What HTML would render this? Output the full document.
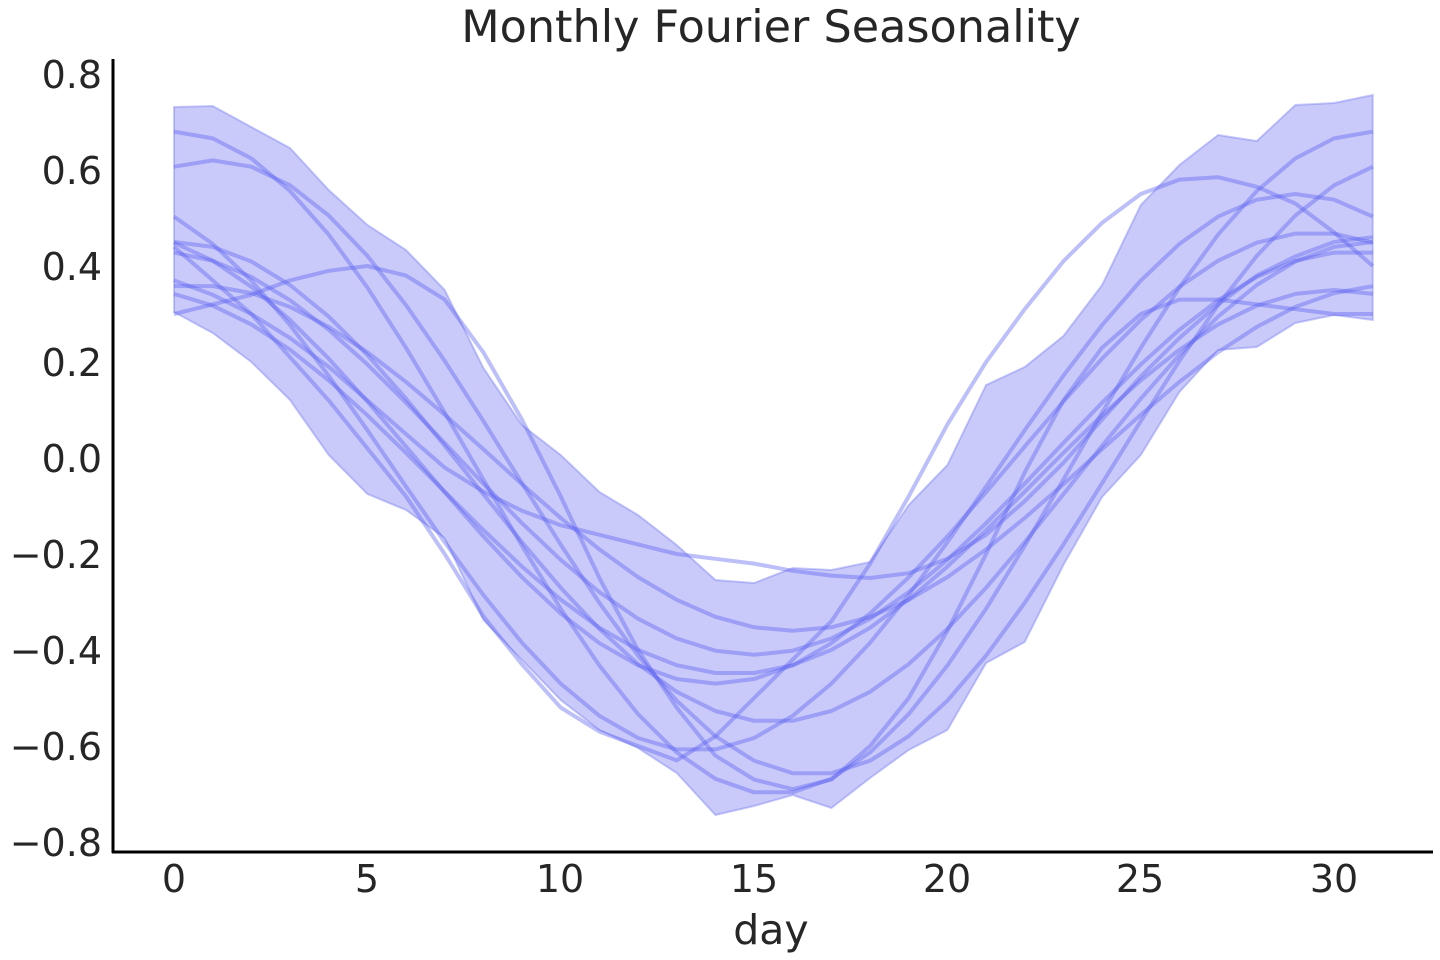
<!DOCTYPE html>
<html><head><meta charset="utf-8"><style>
html,body{margin:0;padding:0;background:#fff;}
svg{display:block;font-family:"DejaVu Sans","Liberation Sans",sans-serif;}
</style></head><body>
<svg id="s" width="1440" height="960" viewBox="0 0 1440 960" xmlns="http://www.w3.org/2000/svg">
<text x="771" y="42" font-size="44.5" fill="#262626" text-anchor="middle">Monthly Fourier Seasonality</text>
<g id="plot"></g>
<line x1="113" y1="59" x2="113" y2="853" stroke="#000" stroke-width="3"/>
<line x1="112" y1="852" x2="1433" y2="852" stroke="#000" stroke-width="3"/>
<g font-size="38" fill="#262626" text-anchor="end">
<text x="102" y="88">0.8</text>
<text x="102" y="184">0.6</text>
<text x="102" y="280">0.4</text>
<text x="102" y="376">0.2</text>
<text x="102" y="472">0.0</text>
<text x="102" y="568">−0.2</text>
<text x="102" y="664">−0.4</text>
<text x="102" y="760">−0.6</text>
<text x="102" y="856">−0.8</text>
</g>
<g font-size="38" fill="#262626" text-anchor="middle">
<text x="174" y="892">0</text>
<text x="367" y="892">5</text>
<text x="560" y="892">10</text>
<text x="754" y="892">15</text>
<text x="947" y="892">20</text>
<text x="1140" y="892">25</text>
<text x="1334" y="892">30</text>
<text x="771" y="944" font-size="41">day</text>
</g>
</svg>
<script>
var X=function(d){return 174+d*38.67;},Y=function(v){return 458-v*480;};
var up=[107,106,127,148,190,225,250,290,368,425,455,492,515,545,580,583,568,570,562,505,465,385,367,336,285,205,165,135,141,105,103,95];
var lo=[312,333,362,400,455,494,510,538,620,660,700,730,748,773,815,806,795,808,778,750,730,663,642,565,497,455,392,350,347,323,315,320];
var p="";for(var i=0;i<32;i++)p+=(i?"L":"M")+X(i).toFixed(1)+","+up[i];
for(var i=31;i>=0;i--)p+="L"+X(i).toFixed(1)+","+lo[i];p+="Z";
var g=document.getElementById("plot"),ns="http://www.w3.org/2000/svg";
var e=document.createElementNS(ns,"path");e.setAttribute("d",p);e.setAttribute("fill","rgba(80,85,235,0.31)");e.setAttribute("stroke","rgba(80,85,235,0.3)");e.setAttribute("stroke-width","2");g.appendChild(e);
function draw(vals){var d="";for(var t=0;t<vals.length;t++)d+=(t?"L":"M")+X(t).toFixed(1)+","+Y(vals[t]).toFixed(1);
var q=document.createElementNS(ns,"path");q.setAttribute("d",d);q.setAttribute("fill","none");q.setAttribute("stroke","rgba(90,95,240,0.4)");q.setAttribute("stroke-width","4");q.setAttribute("stroke-linejoin","round");g.appendChild(q);}
var L=[[0.69,15.5,-0.01],[0.64,16.5,-0.02],[0.58,13.5,-0.03],[0.47,14,0],[0.42,15,0.01],[0.5,15.5,-0.05],[0.40,14.5,-0.05],[0.36,16,0.0]];
L.forEach(function(l){var a=[];for(var t=0;t<32;t++)a.push(-l[0]*Math.cos(2*Math.PI*(t-l[1])/31)+l[2]);draw(a);});
draw([0.37,0.34,0.30,0.25,0.19,0.12,0.05,-0.02,-0.07,-0.11,-0.14,-0.16,-0.18,-0.20,-0.21,-0.22,-0.235,-0.245,-0.25,-0.24,-0.21,-0.16,-0.09,-0.01,0.08,0.17,0.25,0.32,0.38,0.42,0.45,0.46]);
draw([0.44,0.37,0.30,0.21,0.12,0.02,-0.08,-0.2,-0.33,-0.43,-0.52,-0.57,-0.60,-0.63,-0.58,-0.50,-0.42,-0.34,-0.22,-0.08,0.07,0.20,0.31,0.41,0.49,0.55,0.58,0.585,0.565,0.53,0.47,0.40]);
draw([0.30,0.32,0.34,0.37,0.39,0.40,0.38,0.33,0.22,0.08,-0.08,-0.25,-0.40,-0.52,-0.62,-0.67,-0.69,-0.67,-0.60,-0.50,-0.36,-0.2,-0.03,0.12,0.23,0.30,0.33,0.33,0.32,0.31,0.30,0.30]);
</script>
</body></html>
